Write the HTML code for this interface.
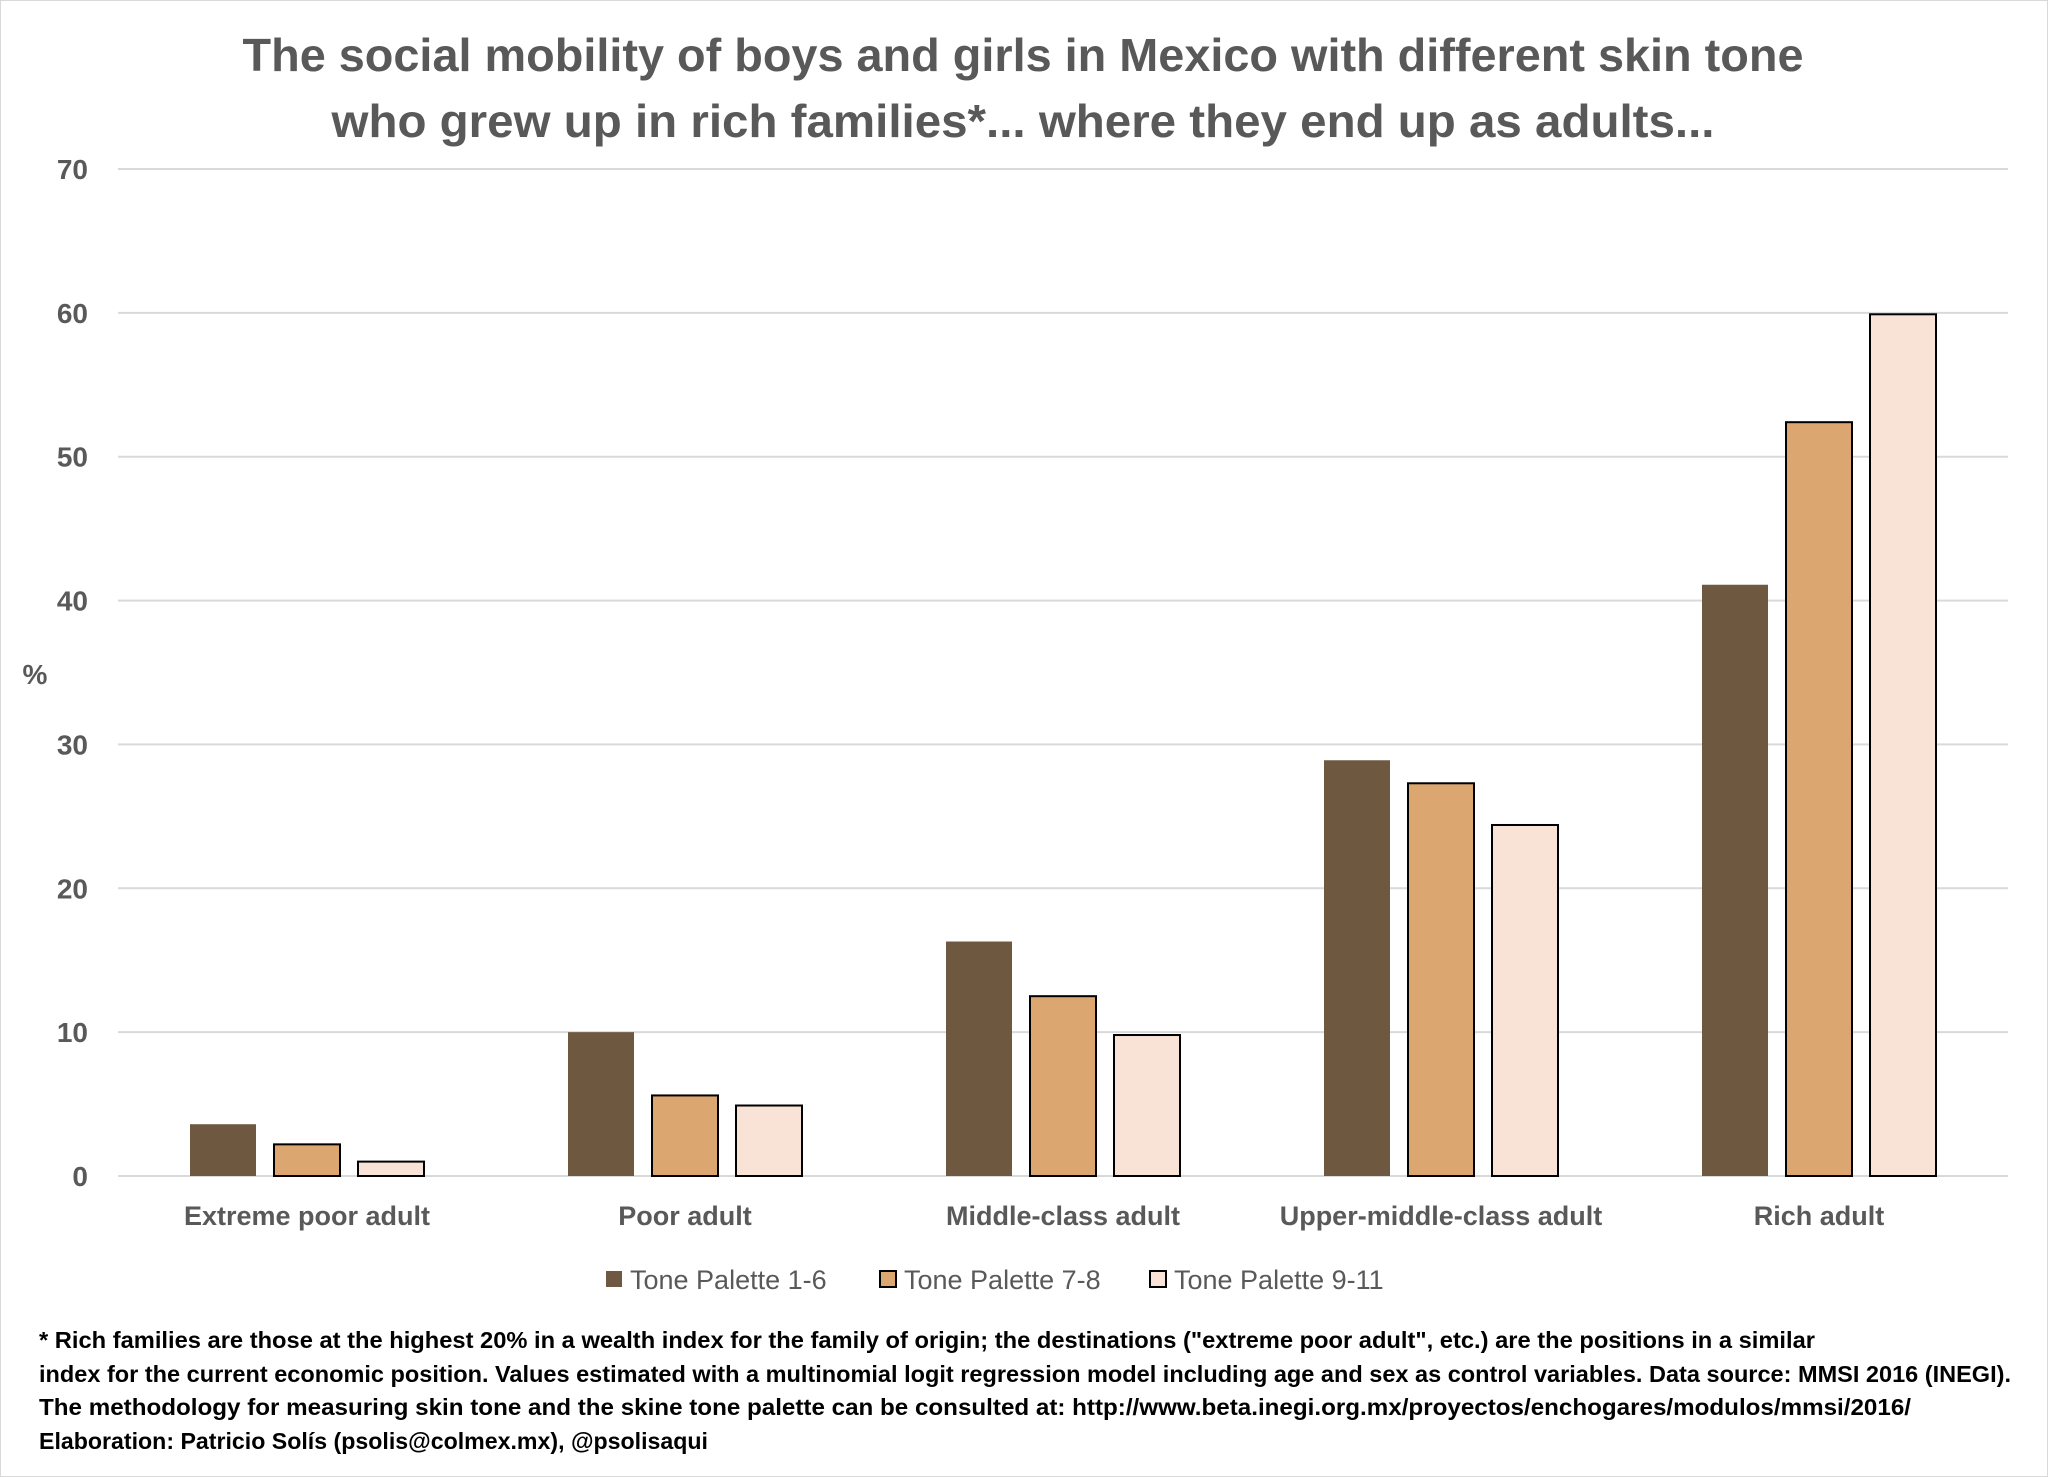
<!DOCTYPE html>
<html><head><meta charset="utf-8"><style>
html,body{margin:0;padding:0;background:#fff}
svg{display:block}
text{font-family:"Liberation Sans",sans-serif}
</style></head><body>
<svg id="chart" width="2048" height="1477" viewBox="0 0 2048 1477">
<rect x="0.5" y="0.5" width="2047" height="1476" fill="#fff" stroke="#d9d9d9"/>
<g fill="#595959" font-weight="bold" font-size="46" text-anchor="middle">
<text x="1023" y="71" textLength="1561" lengthAdjust="spacingAndGlyphs">The social mobility of boys and girls in Mexico with different skin tone</text>
<text x="1023" y="137" textLength="1383" lengthAdjust="spacingAndGlyphs">who grew up in rich families*... where they end up as adults...</text>
</g>
<text x="35" y="684" font-size="28" font-weight="bold" fill="#595959" text-anchor="middle">%</text>
<g id="grid"></g><g id="yticks"></g><g id="bars"></g><g id="xlabels"></g>
<g id="legend"></g>
<g fill="#000" font-weight="bold" font-size="23">
<text x="39" y="1348" textLength="1776" lengthAdjust="spacingAndGlyphs">* Rich families are those at the highest 20% in a wealth index for the family of origin; the destinations ("extreme poor adult", etc.) are the positions in a similar</text>
<text x="39" y="1382" textLength="1972" lengthAdjust="spacingAndGlyphs">index for the current economic position. Values estimated with a multinomial logit regression model including age and sex as control variables. Data source: MMSI 2016 (INEGI).</text>
<text x="39" y="1415" textLength="1872" lengthAdjust="spacingAndGlyphs">The methodology for measuring skin tone and the skine tone palette can be consulted at: http://www.beta.inegi.org.mx/proyectos/enchogares/modulos/mmsi/2016/</text>
<text x="39" y="1449" textLength="669" lengthAdjust="spacingAndGlyphs">Elaboration: Patricio Solís (psolis@colmex.mx), @psolisaqui</text>
</g>
</svg>
<script>
const categories=["Extreme poor adult","Poor adult","Middle-class adult","Upper-middle-class adult","Rich adult"];
const seriesNames=["Tone Palette 1-6","Tone Palette 7-8","Tone Palette 9-11"];
const tone16=[3.6,10.0,16.3,28.9,41.1];
const tone78=[2.2,5.6,12.5,27.3,52.4];
const tone911=[1.0,4.9,9.8,24.4,59.9];
const yTicks=[0,10,20,30,40,50,60,70];
const series=[tone16,tone78,tone911];
const colors=["#6e5840","#dca670","#f9e3d6"];
const strokes=["none","#000","#000"];
const NS="http://www.w3.org/2000/svg";
const x0=118,x1=2008,y0=1176,yTop=169,yMax=70;
const y=v=>y0-(v/yMax)*(y0-yTop);
const gw=(x1-x0)/categories.length;
const xc=i=>x0+gw*(i+0.5);
function mk(tag,attrs,parent){const e=document.createElementNS(NS,tag);for(const k in attrs)e.setAttribute(k,attrs[k]);document.getElementById(parent).appendChild(e);return e;}
yTicks.forEach(t=>{
 const l=mk('line',{x1:x0,x2:x1,y1:y(t),y2:y(t),stroke:'#d9d9d9','stroke-width':2},'grid');
 
 
 const tx=mk('text',{x:88,y:y(t)+10,'text-anchor':'end','font-size':28,'font-weight':'bold',fill:'#595959'},'yticks');
 tx.textContent=t;
 
 
});
const bw=66,step=84;
categories.forEach((c,i)=>{
 series.forEach((s,j)=>{
  const bx=xc(i)+(j-1)*step-bw/2;
  const r=mk('rect',{x:bx,y:y(s[i]),width:bw,height:y0-y(s[i]),fill:colors[j],stroke:strokes[j],'stroke-width':2},'bars');
  
  
 });
 const t=mk('text',{x:xc(i),y:1225,'text-anchor':'middle','font-size':27,'font-weight':'bold',fill:'#595959'},'xlabels');
 t.textContent=c;
 
 
});
const lx=[606,880,1150];
seriesNames.forEach((n,j)=>{
 const r=mk('rect',{x:lx[j],y:1271,width:16,height:16,fill:colors[j],stroke:strokes[j]==='none'?'none':'#000','stroke-width':2},'legend');
 
 
 const t=mk('text',{x:lx[j]+24,y:1289,'font-size':27,fill:'#595959'},'legend');
 t.textContent=n;
 
 
});
</script>
</body></html>
